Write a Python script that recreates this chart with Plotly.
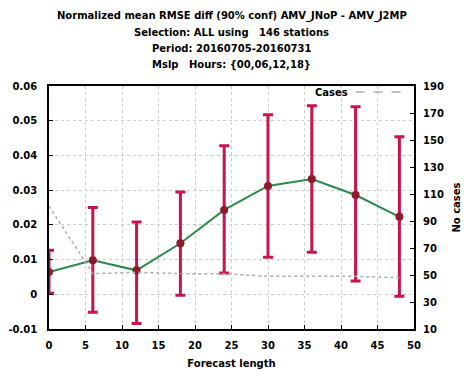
import plotly.graph_objects as go

# Forecast lead times (hours)
lead = [0, 6, 12, 18, 24, 30, 36, 42, 48]

# Normalized mean RMSE difference and its 90% confidence bounds
rmse_diff = [0.0064, 0.0098, 0.0069, 0.0147, 0.0243, 0.0312, 0.0332, 0.0286, 0.0223]
conf_upper = [0.0127, 0.0250, 0.0208, 0.0295, 0.0428, 0.0517, 0.0543, 0.0540, 0.0454]
conf_lower = [0.0003, -0.0052, -0.0084, -0.0003, 0.0061, 0.0107, 0.0121, 0.0038, -0.0006]

# Number of cases per lead time
cases = [101, 51, 52, 51, 51, 49, 49, 49, 48]

title_lines = [
    "Normalized mean RMSE diff (90% conf) AMV_JNoP - AMV_J2MP",
    "Selection: ALL using   146 stations",
    "Period: 20160705-20160731",
    "Mslp   Hours: {00,06,12,18}",
]

err_plus = [u - m for u, m in zip(conf_upper, rmse_diff)]
err_minus = [m - l for m, l in zip(rmse_diff, conf_lower)]

FAMILY = "DejaVu Sans, sans-serif"
tick_font = dict(family=FAMILY, size=10, color="black", weight="bold")

fig = go.Figure()

fig.add_trace(go.Scatter(
    x=lead, y=cases, yaxis="y2", mode="lines",
    line=dict(color="#a7b0a7", width=1.5, dash="dot"),
    showlegend=False, hoverinfo="skip",
))

fig.add_trace(go.Scatter(
    x=lead, y=rmse_diff, mode="lines+markers",
    line=dict(color="#2a8a4a", width=2),
    marker=dict(color="#8b1a2a", size=8),
    error_y=dict(type="data", symmetric=False, array=err_plus, arrayminus=err_minus,
                 color="#c8144a", thickness=3, width=5),
    showlegend=False,
))

plot_top, plot_h = 86, 243

fig.update_layout(
    width=472, height=376,
    margin=dict(l=49, r=58, t=plot_top, b=376 - plot_top - plot_h),
    paper_bgcolor="white", plot_bgcolor="white",
    font=dict(family=FAMILY, size=10, color="black"),
    xaxis=dict(
        range=[0, 50], dtick=5, tick0=0, automargin=False,
        showgrid=True, gridcolor="#cccccc", griddash="dot", gridwidth=1,
        zeroline=False, showline=True, linecolor="black", linewidth=1.5, mirror=True,
        ticks="inside", ticklen=4, tickcolor="black", tickfont=tick_font,
        ticklabelstandoff=6,
        title=dict(text="Forecast length", font=dict(size=10, weight="bold"), standoff=10),
    ),
    yaxis=dict(
        range=[-0.01, 0.06], automargin=False,
        tickvals=[-0.01, 0, 0.01, 0.02, 0.03, 0.04, 0.05, 0.06],
        ticktext=["-0.01", "0", "0.01", "0.02", "0.03", "0.04", "0.05", "0.06"],
        showgrid=True, gridcolor="#cccccc", griddash="dot", gridwidth=1,
        zeroline=False, showline=True, linecolor="black", linewidth=1.5, mirror=True,
        ticks="inside", ticklen=4, tickcolor="black", tickfont=tick_font,
        ticklabelstandoff=8,
    ),
    yaxis2=dict(
        range=[10, 190], tick0=10, dtick=20, overlaying="y", side="right", automargin=False,
        showgrid=False, zeroline=False, showline=False,
        ticks="inside", ticklen=4, tickcolor="black", tickfont=tick_font,
        ticklabelstandoff=8,
        title=dict(text="No cases", font=dict(size=10, weight="bold"), standoff=10),
    ),
)

# Four-line heading, one annotation per line for wider line spacing
for i, line in enumerate(title_lines):
    py = 16 + i * 16.3
    fig.add_annotation(x=0.5, y=1 + (plot_top - py) / plot_h, xref="paper", yref="paper",
                       text=line, showarrow=False, xanchor="center", yanchor="middle",
                       font=dict(family=FAMILY, size=10, color="black", weight="bold"))

# Legend entry for the cases line: label followed by the line sample
fig.add_annotation(x=0.825, y=0.975, xref="paper", yref="paper", text="Cases",
                   showarrow=False, xanchor="right", yanchor="middle",
                   font=dict(size=10, weight="bold"))
fig.add_shape(type="line", xref="paper", yref="paper", x0=0.84, x1=0.98, y0=0.975, y1=0.975,
              line=dict(color="#a7b0a7", width=1.5, dash="dash"))

fig.write_html("out.html")
